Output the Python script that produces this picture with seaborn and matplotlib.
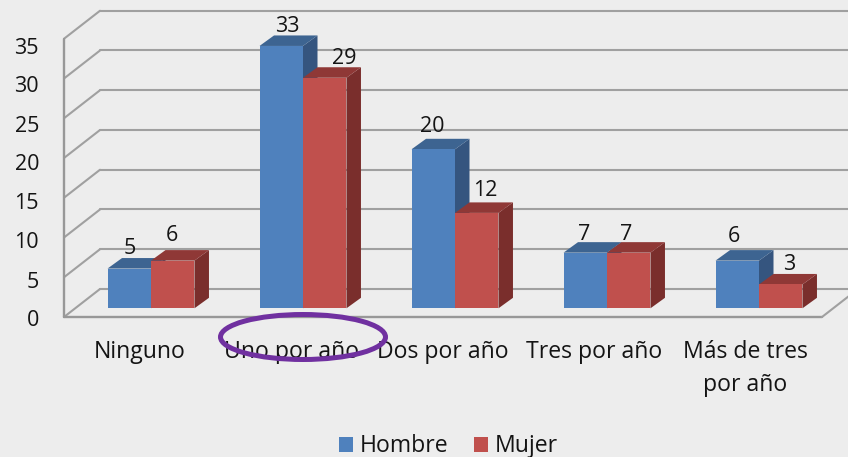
import pandas as pd
import numpy as np
import matplotlib.pyplot as plt
import seaborn as sns
from matplotlib.patches import Ellipse

categorias = ["Ninguno", "Uno por año", "Dos por año", "Tres por año", "Más de tres\npor año"]
hombre = [5, 33, 20, 7, 6]
mujer = [6, 29, 12, 7, 3]
y_ticks = [0, 5, 10, 15, 20, 25, 30, 35]

sns.set_theme(style="white")
plt.rcParams["font.family"] = ["Open Sans", "DejaVu Sans"]

BG = "#EDEDED"
GRID = "#A0A0A0"
INK = "#141414"
COLORS = {"Hombre": "#4F81BD", "Mujer": "#C0504D"}
TOPS = {"Hombre": "#3D6491", "Mujer": "#8F3836"}
SIDES = {"Hombre": "#35557F", "Mujer": "#7A2E2C"}

# pixel layout of the picture -> data units
X_UNIT = 152.0
Y_UNIT = 7.95
X0_PX = 151.0
Y0_PX = 308.3

def dx(px):
    return px / X_UNIT

def dy(px):
    return px / Y_UNIT

def xd(px):
    return (px - X0_PX) / X_UNIT

def yd(px):
    return (Y0_PX - px) / Y_UNIT

df = pd.DataFrame({
    "categoria": categorias * 2,
    "valor": hombre + mujer,
    "sexo": ["Hombre"] * len(hombre) + ["Mujer"] * len(mujer),
})

fig = plt.figure(figsize=(8.48, 4.57), dpi=100, facecolor=BG)
ax = fig.add_axes([0, 0, 1, 1])
ax.set_facecolor(BG)

sns.barplot(data=df, x="categoria", y="valor", hue="sexo", palette=COLORS,
            width=0.572, gap=0, saturation=1, ax=ax, zorder=4, linewidth=0)

ax.set_xlim(xd(0), xd(848))
ax.set_ylim(yd(457), yd(0))
ax.axis("off")

# -------------------------------------------------
# walls and floor
# -------------------------------------------------
front_x = xd(64)
front_0 = yd(317)
back_dx = dx(36)
back_dy = dy(28)
right_x = xd(822)
for v in y_ticks:
    y = front_0 + v
    ax.plot([front_x, front_x + back_dx], [y, y + back_dy], color=GRID, lw=1.5, zorder=1)
    ax.plot([front_x + back_dx, xd(848)], [y + back_dy, y + back_dy], color=GRID, lw=1.5, zorder=1)
ax.plot([front_x, front_x], [front_0, front_0 + y_ticks[-1]], color="#989898", lw=1.7, zorder=1.5)
ax.plot([front_x, right_x], [front_0, front_0], color="#989898", lw=1.7, zorder=1.5)
ax.plot([right_x, right_x + back_dx], [front_0, front_0 + back_dy], color=GRID, lw=1.5, zorder=1.5)

# -------------------------------------------------
# 3d sides of the bars, taken from the seaborn bars
# -------------------------------------------------
bar_dx = dx(14.5)
bar_dy = dy(10.5)
label_nudge = {"Hombre": [0, 6, -1, -1, -3], "Mujer": [-1, 20, 8, -3, 8]}
label_lift = {"Hombre": [20, 19, 23, 18, 24], "Mujer": [25, 19, 22, 18, 20]}

for container, sexo in zip(ax.containers, COLORS):
    z = 2 if sexo == "Hombre" else 3
    for i, (bar, val) in enumerate(zip(container.patches, container.datavalues)):
        x0, w, h = bar.get_x(), bar.get_width(), bar.get_height()
        ax.fill([x0 + w, x0 + w + bar_dx, x0 + w + bar_dx, x0 + w],
                [0, bar_dy, h + bar_dy, h], color=SIDES[sexo], lw=0, zorder=z)
        ax.fill([x0, x0 + w, x0 + w + bar_dx, x0 + bar_dx],
                [h, h, h + bar_dy, h + bar_dy], color=TOPS[sexo], lw=0, zorder=z)
        ax.text(x0 + w / 2 + dx(label_nudge[sexo][i]), h + dy(label_lift[sexo][i]),
                f"{val:.0f}", ha="center", va="center", fontsize=15.5, color=INK, zorder=6)

# -------------------------------------------------
# text
# -------------------------------------------------
for v in y_ticks:
    ax.text(xd(39), yd(321 - 7.8 * v), str(v), ha="right", va="center",
            fontsize=15.5, color=INK, zorder=6)

for i, cat in enumerate(categorias):
    ax.text(xd(140 + 151.3 * i), yd(340), cat, ha="center", va="top",
            fontsize=16.6, color=INK, linespacing=1.5, zorder=6)

ax.add_patch(Ellipse((xd(303), yd(337)), dx(165), dy(45), fill=False,
                     edgecolor="#7030A0", lw=3.6, zorder=7))

sns.move_legend(ax, "center", bbox_to_anchor=(0.529, 0.023), ncol=2, frameon=False,
                title=None, fontsize=16.6, handlelength=0.62, handleheight=0.62,
                columnspacing=1.1, handletextpad=0.3, labelcolor=INK, borderpad=0)

fig.savefig("out.png", dpi=100, facecolor=BG)
